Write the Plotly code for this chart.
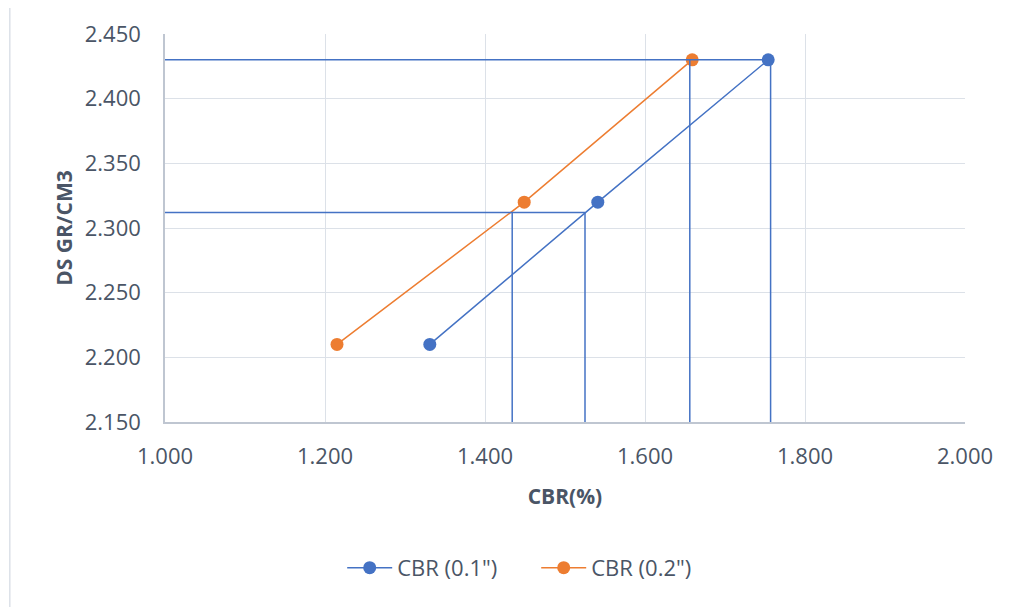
import plotly.graph_objects as go

# data
ds = [2.210, 2.320, 2.430]
cbr_01 = [1.331, 1.541, 1.754]
cbr_02 = [1.215, 1.449, 1.659]

# guide lines drawn by hand on the original chart
guide_x = [1.434, 1.525, 1.656, 1.757]
guide_y = [2.312, 2.312, 2.430, 2.430]
guide_h_y = [2.312, 2.430]
guide_h_x1 = [1.525, 1.757]

blue = '#4472C4'
orange = '#ED7D31'
txt = '#4A5566'
grid = '#DCE1E8'

fig = go.Figure()

fig.add_trace(go.Scatter(x=cbr_01, y=ds, name='CBR (0.1")', mode='lines+markers',
                         line=dict(color=blue, width=1.5), marker=dict(size=13, color=blue)))
fig.add_trace(go.Scatter(x=cbr_02, y=ds, name='CBR (0.2")', mode='lines+markers',
                         line=dict(color=orange, width=1.5), marker=dict(size=13, color=orange)))

# horizontal guides
for yv, x1 in zip(guide_h_y, guide_h_x1):
    fig.add_shape(type='line', xref='x', yref='y', x0=0.996, x1=x1, y0=yv, y1=yv,
                  line=dict(color=blue, width=1.5))
# vertical guides
for xv, yv in zip(guide_x, guide_y):
    fig.add_shape(type='line', xref='x', yref='y', x0=xv, x1=xv, y0=2.147, y1=yv,
                  line=dict(color=blue, width=1.5))

# chart border
fig.add_shape(type='rect', xref='paper', yref='paper', x0=-0.194, x1=1.08, y0=-0.49, y1=1.077,
              line=dict(color=grid, width=1.5))

# page body adds an 8px offset, so margins are shifted back by 8px
fig.update_layout(
    width=1016, height=607,
    margin=dict(l=157, r=59, t=26, b=193, autoexpand=False),
    plot_bgcolor='white', paper_bgcolor='white',
    font=dict(family='Open Sans', color=txt, size=22),
    showlegend=True,
    legend=dict(orientation='h', x=0.464, xanchor='center', y=-0.376, yanchor='middle',
                itemwidth=45, entrywidth=134, font=dict(size=22, color=txt)),
    xaxis=dict(range=[1.0, 2.0], dtick=0.2, tickformat='.3f', showgrid=True, gridcolor=grid,
               showline=True, linecolor='#BFC6D1', linewidth=1.5, zeroline=False, ticks='',
               ticklabelstandoff=14, automargin=False,
               title=dict(text='<b>CBR(%)</b>', standoff=20, font=dict(size=21, color=txt))),
    yaxis=dict(range=[2.15, 2.45], dtick=0.05, tickformat='.3f', showgrid=True, gridcolor=grid,
               showline=True, linecolor='#BFC6D1', linewidth=1.5, zeroline=False, ticks='',
               ticklabelstandoff=18, automargin=False,
               title=dict(text='<b>DS GR/CM3</b>', standoff=6, font=dict(size=21, color=txt))),
)

fig.write_html('out.html')
